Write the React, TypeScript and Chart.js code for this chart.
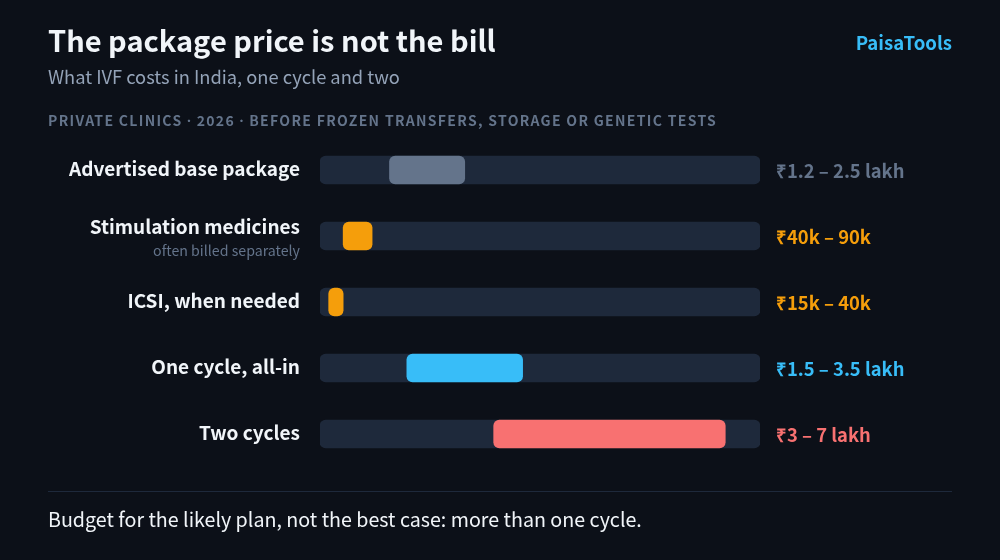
import { useEffect, useRef } from "react";
import { Chart, registerables } from "chart.js";

Chart.register(...registerables);

// values in lakh of rupees
const categories = ["Advertised base package", "Stimulation medicines", "ICSI, when needed", "One cycle, all-in", "Two cycles"];
const notes = ["", "often billed separately", "", "", ""];
const lows = [1.2, 0.4, 0.15, 1.5, 3];
const highs = [2.5, 0.9, 0.4, 3.5, 7];
const rangeLabels = ["₹1.2 – 2.5 lakh", "₹40k – 90k", "₹15k – 40k", "₹1.5 – 3.5 lakh", "₹3 – 7 lakh"];
const colors = ["#64748b", "#f59e0b", "#f59e0b", "#38bdf8", "#f87171"];
const axisMax = 7.6;

const FONT = '"Noto Sans CJK SC", sans-serif';

const rowText = {
  id: "rowText",
  afterDatasetsDraw(chart: Chart) {
    const { ctx, scales, chartArea } = chart;
    ctx.save();
    ctx.textBaseline = "middle";
    categories.forEach((name, i) => {
      const y = scales.y.getPixelForValue(i);
      ctx.textAlign = "right";
      ctx.fillStyle = "#f1f5f9";
      ctx.font = `700 19px ${FONT}`;
      ctx.fillText(name, chartArea.left - 20, notes[i] ? y - 9 : y - 1);
      if (notes[i]) {
        ctx.fillStyle = "#64748b";
        ctx.font = `400 14.2px ${FONT}`;
        ctx.fillText(notes[i], chartArea.left - 20, y + 15);
      }
      ctx.textAlign = "left";
      ctx.fillStyle = colors[i];
      ctx.font = `700 18.4px ${FONT}`;
      ctx.fillText(rangeLabels[i], chartArea.right + 16, y + 1);
    });
    ctx.restore();
  },
};

export default function App() {
  const canvasRef = useRef<HTMLCanvasElement>(null);

  useEffect(() => {
    document.body.style.margin = "0";
    if (!canvasRef.current) return;

    const chart = new Chart(canvasRef.current, {
      type: "bar",
      data: {
        labels: categories,
        datasets: [
          {
            label: "Range",
            data: categories.map((_, i) => [lows[i], highs[i]]),
            backgroundColor: colors,
            borderRadius: 6,
            borderSkipped: false,
            barThickness: 28,
            order: 1,
          },
          {
            label: "Track",
            data: categories.map(() => [0, axisMax]),
            backgroundColor: "#1e293b",
            borderRadius: 6,
            borderSkipped: false,
            barThickness: 28,
            order: 2,
          },
        ],
      },
      options: {
        indexAxis: "y",
        animation: false,
        responsive: false,
        grouped: false,
        layout: { padding: { left: 320, right: 240, top: 137, bottom: 93 } },
        plugins: { legend: { display: false }, tooltip: { enabled: false } },
        scales: {
          x: { display: false, min: 0, max: axisMax },
          y: { display: false },
        },
      } as any,
      plugins: [rowText],
    });

    return () => chart.destroy();
  }, []);

  const text = (top: number, style: React.CSSProperties) => ({
    position: "absolute" as const,
    left: 48,
    top,
    whiteSpace: "nowrap" as const,
    ...style,
  });

  const dot = <span style={{ fontFamily: '"Noto Sans", sans-serif' }}>·</span>;

  return (
    <div style={{ position: "relative", width: 1000, height: 560, background: "#0c1018", fontFamily: FONT, overflow: "hidden" }}>
      <canvas ref={canvasRef} width={1000} height={560} style={{ position: "absolute", left: 0, top: 0 }} />
      <div style={text(20, { fontSize: 29, lineHeight: "38px", fontWeight: 700, color: "#f1f5f9" })}>The package price is not the bill</div>
      <div style={text(63, { fontSize: 18.3, lineHeight: "26px", color: "#94a3b8" })}>What IVF costs in India, one cycle and two</div>
      <div style={text(111, { fontSize: 14, lineHeight: "18px", fontWeight: 700, letterSpacing: 1.31, color: "#64748b" })}>
        PRIVATE CLINICS {dot} 2026 {dot} BEFORE FROZEN TRANSFERS, STORAGE OR GENETIC TESTS
      </div>
      <div style={{ position: "absolute", right: 48, top: 29, fontSize: 18.6, lineHeight: "26px", fontWeight: 700, color: "#38bdf8" }}>PaisaTools</div>
      <div style={{ position: "absolute", left: 48, right: 48, top: 491, height: 1, background: "#1e293b" }} />
      <div style={text(506, { fontSize: 19.66, lineHeight: "26px", color: "#f1f5f9" })}>Budget for the likely plan, not the best case: more than one cycle.</div>
    </div>
  );
}
